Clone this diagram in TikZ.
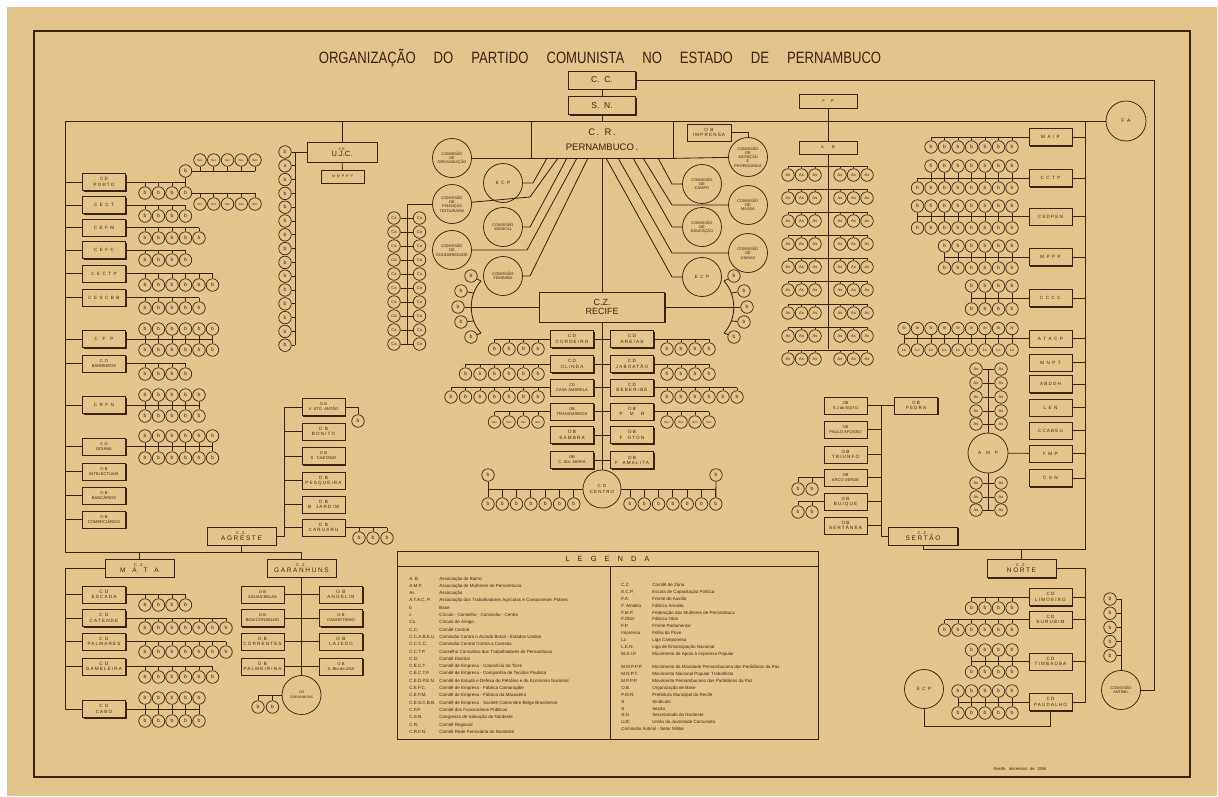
\documentclass[tikz,border=0pt]{standalone}
\usepackage{fontspec}
\setmainfont{Liberation Sans}
\newfontfamily\spaced[LetterSpace=25]{Liberation Sans}
\newfontfamily\narrow[FakeStretch=0.8]{Liberation Sans}
\usetikzlibrary{shadows,positioning}
\definecolor{paper}{HTML}{E3C48A}
\definecolor{ink}{HTML}{36260F}

\begin{document}
\begin{tikzpicture}[x=1pt, y=-1pt, % one unit = one pixel, y downwards
      color = ink, line width=0.85pt,
bc/.style  = {circle, draw, fill=paper, minimum size=12.5pt, inner sep=0pt,
              line width=0.7pt, font=\fontsize{5}{5}\selectfont},
sec/.style = {bc, font=\fontsize{3}{3}\selectfont},
ca/.style  = {bc, font=\fontsize{4}{4}\selectfont},
com/.style = {circle, draw, fill=paper, minimum size=39pt, inner sep=0pt,
              align=center, line width=0.75pt, font=\fontsize{3.9}{4.3}\selectfont},
ob/.style  = {draw, fill=paper, minimum width=43pt, minimum height=17pt,
              inner sep=0pt, align=center, line width=0.75pt,
              drop shadow={shadow xshift=1.2pt, shadow yshift=-1.2pt,
                           fill=ink, opacity=1},
              font=\spaced\fontsize{4.6}{5.2}\selectfont},
obn/.style = {ob, font=\fontsize{4.1}{5}\selectfont},
cz/.style  = {ob, minimum width=69pt, minimum height=18pt,
              font=\spaced\fontsize{6.5}{6}\selectfont},
                    ]
\useasboundingbox (0,0) rectangle (1218,796);
\fill[paper] (7,7) rectangle (1217,796);
\draw[line width=1.8pt] (34,31) rectangle (1190,777);

% title and top of the tree
\node (titulo) at (600,58) {\narrow\fontsize{16.4}{16.4}\selectfont\spaceskip=18pt
  ORGANIZAÇÃO DO PARTIDO COMUNISTA NO ESTADO DE PERNAMBUCO};
\node[ob, minimum width=67pt, minimum height=18pt, font=\fontsize{8.5}{8.5}\selectfont] (cc) at (602,80) {C.\ \ C.};
\node[ob, minimum width=67pt, minimum height=18pt, font=\fontsize{8.5}{8.5}\selectfont] (sn) at (602,105.5) {S.\ \ N.};
\node[ob, minimum width=142pt, minimum height=37pt, font=\fontsize{9.5}{9.5}\selectfont] (cr) at (602,139.5)
  {C\,.\ \ R\,.\\[6pt]PERNAMBUCO\,.};
\node[com, minimum size=40pt, font=\spaced\fontsize{5}{5}\selectfont] (fa) at (1126,121) {F A};
\coordinate (tl) at (65,121);
\coordinate (rv) at (1085,121);
\coordinate (ll) at (65,552);
\draw (ll) -- (tl) -- (fa);
\draw (cc) -- (sn);
\draw (sn) -- (cr);

% U.J.C.
\node[ob, minimum width=70pt, minimum height=20pt, font=\fontsize{7.5}{6}\selectfont] (ujc) at (342,152)
  {{\fontsize{3.5}{3.5}\selectfont C.R.}\\U.J.C.};
\node[ob, minimum height=13pt, font=\spaced\fontsize{3.6}{4}\selectfont] (mmppp) at (342.5,176.5) {M M P P P};
\draw (ujc) -- (ujc |- tl);
\draw (ujc) -- (mmppp);
\coordinate (uv) at (295,152);
\foreach \i in {0,...,14}
  {\node[bc] (ujc-\i) at (285,152+13.8*\i) {\ifnum\i=1 a\else b\fi};
   \draw (ujc-\i) -- (ujc-\i -| uv);}
\draw (ujc) -- (ujc-0);
\draw (uv) -- (uv |- ujc-14);

% left branch of the regional committee
\node[ob]  (porto)        at (104,182)   {CD\\PORTO};
\node[ob]  (cect)         at (104,205)   {C E C T};
\node[ob]  (cefm)         at (104,227.5) {C E F M};
\node[ob]  (cefc)         at (104,250)   {C E F C};
\node[ob]  (cectp)        at (104,273.5) {C E C T P};
\node[ob]  (cescbb)       at (104,297.5) {C E S C B B};
\node[ob]  (cfp)          at (104,339)   {C\ \ F\ \ P};
\node[obn] (barreiros)    at (104,363.5) {C\ \ D\\BARREIROS};
\node[ob]  (crfn)         at (104,405)   {C R F N};
\node[obn] (goiana)       at (104,446.5) {C D\\GOIANA};
\node[obn] (intelectuais) at (104,471.5) {O B\\INTELECTUAIS};
\node[obn] (bancarios)    at (104,495.5) {O B\\BANCÁRIOS};
\node[obn] (comerciarios) at (104,519.5) {O B\\COMERCIÁRIOS};
\foreach \nm in {porto,cect,cefm,cefc,cectp,cescbb,cfp,barreiros,crfn,goiana,
                 intelectuais,bancarios,comerciarios}
  \draw (\nm) -- (\nm -| tl);
\foreach \nm/\n/\yb in {porto/3/193, cect/3/216, cefm/4/238, cefc/3/260,
                         cectp/5/285, cescbb/4/308, barreiros/3/374}
  {\foreach \i in {0,...,\n}
     {\node[bc] (\nm-\i) at (145+13.5*\i,\yb) {b};
      \draw (\nm-\i) -- (\nm-\i |- \nm);}
   \draw (\nm) -- (\nm-\n |- \nm);}
\foreach \nm/\n/\ya/\yb in {cfp/5/329/350, crfn/4/395/416, goiana/5/436/458}
  {\foreach \i in {0,...,\n}
     {\node[bc] (\nm-a\i) at (145+13.5*\i,\ya) {b};
      \node[bc] (\nm-b\i) at (145+13.5*\i,\yb) {b};
      \draw (\nm-a\i) -- (\nm-b\i);}
   \draw (\nm) -- (\nm-a\n |- \nm);}
% sections of CD Porto
\node[bc] (porto-up) at (185.5,171) {b};
\draw (porto-up) -- (porto-3);
\foreach \i in {0,...,4}
  {\node[sec] (porto-s\i) at (200+13.75*\i,160) {Sec};
   \node[sec] (porto-t\i) at (200+13.75*\i,204) {Sec};
   \draw (porto-s\i) -- (porto-s\i |- porto-up);
   \draw (porto-t\i) -- (porto-t\i |- porto-3);}
\draw (porto-up) -- (porto-s4 |- porto-up);
\draw (porto-3) -- (porto-t4 |- porto-3);

% commissions round C.R.
\node[com] (org)  at (452,158) {COMISSÃO\\DE\\ORGANIZAÇÃO};
\node[com, font=\spaced\fontsize{4.6}{5}\selectfont] (ecpl) at (503,183) {E C P};
\node[com] (fin)  at (452,204) {COMISSÃO\\DE\\FINANÇAS\\TEZOURARIA};
\node[com] (sind) at (503,227) {COMISSÃO\\SINDICAL};
\node[com] (sol)  at (452,250) {COMISSÃO\\DE\\SOLIDARIEDADE};
\node[com] (fem)  at (503,276) {COMISSÃO\\FEMININA};
\node[ob, minimum width=44pt] (imprensa) at (709,132.5) {O B\\IMPRENSA};
\node[com] (agit)   at (748,157) {COMISSÃO\\DE\\AGITAÇÃO\\E\\PROPAGANDA};
\node[com] (campo)  at (702,184) {COMISSÃO\\DE\\CAMPO};
\node[com] (massa)  at (748,205) {COMISSÃO\\DE\\MASSA};
\node[com] (educ)   at (702,227) {COMISSÃO\\DE\\EDUCAÇÃO};
\node[com] (usinas) at (748,253) {COMISSÃO\\DE\\USINAS};
\node[com, font=\spaced\fontsize{4.6}{5}\selectfont] (ecpr) at (702,277) {E C P};
\draw (org) -- (org -| cr.south west);
\draw (ecpl) -- (533,183) -- (547,158);
\draw (fin)  -- (530,197) -- (558,158);
\draw (sind) -- (530,227) -- (567,158);
\draw (sol)  -- (527,250) -- (577,158);
\draw (fem)  -- (530,276) -- (588,158);
\draw (cr.south east) -- (agit);
\draw (658,158) -- (672,184) -- (campo);
\draw (643,158) -- (672,205) -- (massa);
\draw (633,158) -- (672,227) -- (educ);
\draw (618,158) -- (672,253) -- (usinas);
\draw (606,158) -- (672,277) -- (ecpr);
\coordinate (imk) at (748,132.5);
\draw (imprensa) -- (imk) -- (agit);
% circles of friends
\foreach \i in {0,...,9}
  {\node[ca] (ca-l\i) at (394,218+14*\i) {Ca};
   \node[ca] (ca-r\i) at (419.5,218+14*\i) {Ca};
   \draw (ca-l\i) -- (ca-r\i);}
\coordinate (cav) at (407,204);
\draw (fin) -- (cav) -- (cav |- ca-l9);

% C.Z. Recife
\node[ob, minimum width=125pt, minimum height=30pt, font=\fontsize{9}{9.5}\selectfont] (recife) at (602,307)
  {C.Z.\\RECIFE};
\node[com, minimum size=38pt, font=\spaced\fontsize{4.4}{6}\selectfont] (centro) at (602,489) {C D\\CENTRO};
\draw (cr) -- (recife);
\draw (recife) -- (centro);
\draw (recife) -- (471,307);
\draw (481,281) .. controls (468,295) and (468,319) .. (481,333);
\draw (recife) -- (734,307);
\draw (724,281) .. controls (737,295) and (737,319) .. (724,333);
\foreach \i/\x/\y/\ax/\ay in {1/471/276/481/281, 2/461/291/473.7/293, 3/458/307/471/307,
                              4/461/322/473.7/321, 5/471/337/481/333}
  {\node[bc] (rl-\i) at (\x,\y) {b};
   \node[bc] (rr-\i) at (1205-\x,\y) {b};
   \draw (rl-\i) -- (\ax,\ay);
   \draw (rr-\i) -- (1205-\ax,\ay);}
\node[ob]  (cordeiro) at (572,339)   {CD\\CORDEIRO};
\node[ob]  (olinda)   at (572,364)   {CD\\OLINDA};
\node[obn] (casa)     at (572,387.5) {CD\\CASA AMARELA};
\node[obn] (transv)   at (572,411.5) {OB\\TRANSVIÁRIOS};
\node[ob]  (sambra)   at (572,435)   {OB\\SAMBRA};
\node[obn] (stamaria) at (572,460)   {OB\\C. Sta. MARIA};
\node[ob]  (areias)   at (632,339)   {CD\\AREIAS};
\node[ob]  (jaboatao) at (632,364)   {CD\\JABOATÃO};
\node[ob]  (beberibe) at (632,387.5) {CD\\BEBERIBE};
\node[ob]  (pmr)      at (632,411.5) {OB\\P\ \ \ M\ \ \ R};
\node[ob]  (foton)    at (632,435)   {OB\\F\ \ OTON};
\node[ob]  (famalita) at (632,460)   {OB\\F\ \ AMALITA};
\foreach \nm in {cordeiro,olinda,casa,transv,sambra,stamaria,
                 areias,jaboatao,beberibe,pmr,foton,famalita}
  \draw (\nm) -- (\nm -| recife);
\foreach \nm/\n/\yb in {cordeiro/3/349, olinda/5/374, casa/6/397}
  {\foreach \i in {0,...,\n}
     {\node[bc] (\nm-\i) at (538-14.5*\i,\yb) {b};
      \draw (\nm-\i) -- (\nm-\i |- \nm);}
   \draw (\nm) -- (\nm-\n |- \nm);}
\foreach \nm/\n/\yb in {areias/3/349, jaboatao/3/374, beberibe/5/397}
  {\foreach \i in {0,...,\n}
     {\node[bc] (\nm-\i) at (667+14*\i,\yb) {b};
      \draw (\nm-\i) -- (\nm-\i |- \nm);}
   \draw (\nm) -- (\nm-\n |- \nm);}
\foreach \i in {0,...,3}
  {\node[sec] (transv-\i) at (538-14.5*\i,422) {Sec};
   \node[sec] (pmr-\i) at (667+14*\i,422) {Sec};
   \draw (transv-\i) -- (transv-\i |- transv);
   \draw (pmr-\i) -- (pmr-\i |- pmr);}
\draw (transv) -- (transv-3 |- transv);
\draw (pmr) -- (pmr-3 |- pmr);
% bases of CD Centro
\foreach \i in {0,...,6}
  {\node[bc] (cl-\i) at (488+14.3*\i,504) {b};
   \node[bc] (ce-\i) at (630+14.3*\i,504) {b};
   \draw (cl-\i) -- (cl-\i |- centro);
   \draw (ce-\i) -- (ce-\i |- centro);}
\node[bc] (cl-up) at (488,475) {b};
\node[bc] (ce-up) at (716,475) {b};
\draw (cl-up) -- (cl-0);
\draw (ce-up) -- (ce-6);
\draw (centro) -- (cl-0 |- centro);
\draw (centro) -- (ce-6 |- centro);

% F.P. and A.B.
\node[ob, minimum width=58pt, minimum height=14pt, font=\spaced\fontsize{4}{4}\selectfont] (fp) at (828,101) {F\ \ \ P};
\node[ob, minimum width=58pt, minimum height=13pt, font=\spaced\fontsize{4}{4}\selectfont] (ab) at (828,147.5) {A\ \ \ \ B};
\coordinate (abe) at (828,349);
\draw (fp) -- (ab);
\draw (ab) -- (abe);
\foreach \r in {0,...,8}
  {\draw (788,166+23*\r) -- (867,166+23*\r);
   \foreach \x [count=\i] in {788,801.5,815,840,853.5,867}
     {\node[ca] (as-\r-\i) at (\x,175+23*\r) {As};
      \draw (as-\r-\i) -- ++(0,-9);}}

% right column
\node[ob] (maip)   at (1050.5,137)   {M A I P};
\node[ob] (cctp)   at (1050.5,178)   {C C T P};
\node[ob] (cedpen) at (1050.5,216.5) {CEDPEN};
\node[ob] (mppp)   at (1050.5,257)   {M P P P};
\node[ob] (cccc)   at (1050.5,298)   {C C C C};
\node[ob] (atacp)  at (1050.5,338.5) {A T A C P};
\node[ob] (mnpt)   at (1050.5,362.5) {M N P T};
\node[ob] (abddh)  at (1050.5,384)   {ABDDH};
\node[ob] (len)    at (1050.5,407.5) {L E N};
\node[ob] (ccabeu) at (1050.5,430.5) {CCABEU};
\node[ob] (fmp)    at (1050.5,453.5) {F M P};
\node[ob] (csn)    at (1050.5,478)   {C S N};
\foreach \nm in {maip,cctp,cedpen,mppp,cccc,atacp,mnpt,abddh,len,ccabeu,fmp,csn}
  \draw (\nm) -- (\nm -| rv);
\foreach \nm/\n/\yb in {maip/6/147, cctp/7/188, cedpen/7/228, mppp/5/268, cccc/3/309}
  {\foreach \i in {0,...,\n}
     {\node[bc] (\nm-b\i) at (1012-13.5*\i,\yb) {b};
      \draw (\nm-b\i) -- (\nm-b\i |- \nm);}
   \draw (\nm) -- (\nm-b\n |- \nm);}
\foreach \nm/\n/\ya in {cctp/6/166, cedpen/7/206, mppp/5/246, cccc/3/286}
  \foreach \i in {0,...,\n}
    {\node[bc] (\nm-a\i) at (1012-13.5*\i,\ya) {b};
     \draw (\nm-a\i) -- (\nm-a\i |- \nm);}
\foreach \i in {0,...,8}
  {\node[ca] (sr-\i) at (1012-13.5*\i,328.5) {Sr};
   \node[ca] (lc-\i) at (1012-13.5*\i,350) {Lc};
   \draw (sr-\i) -- (lc-\i);}
\draw (atacp) -- (sr-8 |- atacp);
% A.M.P.
\node[com, minimum size=40pt, font=\spaced\fontsize{4.6}{5}\selectfont] (amp) at (988,453) {A\ \ M\ \ P};
\foreach \y in {369,383,397,411,424,483,497,510}
  {\node[ca] (amp-l\y) at (976,\y) {As};
   \node[ca] (amp-r\y) at (1001,\y) {As};
   \draw (amp-l\y) -- (amp-r\y);}
\draw (amp) -- (amp |- amp-l369);
\draw (amp) -- (amp |- amp-l510);
\draw (amp) -- (fmp);

% C.Z. Sertao
\node[obn] (sjegito)  at (845.5,405.5) {OB\\S J do EGITO};
\node[ob]  (pedra)    at (916,405.5)   {OB\\PEDRA};
\node[obn] (paulo)    at (845.5,429.5) {OB\\PAULO AFONSO};
\node[ob]  (triunfo)  at (845.5,454.5) {OB\\TRIUNFO};
\node[obn] (arco)     at (845.5,477.5) {OB\\ARCO VERDE};
\node[ob]  (buique)   at (845.5,501.5) {OB\\BUIQUE};
\node[ob]  (sertanea) at (845.5,525.5) {OB\\SERTÂNEA};
\node[cz]  (sertao)   at (923,536) {{\fontsize{4}{4}\selectfont C.Z.}\\SERTÃO};
\coordinate (sv) at (881,405.5);
\coordinate (rb) at (1085,549);
\draw (sjegito) -- (pedra);
\draw (sv) -- (sv |- sertao) -- (sertao);
\foreach \nm in {paulo,triunfo,arco,buique,sertanea}
  \draw (\nm) -- (\nm -| sv);
\foreach \nm/\y in {arco/489, buique/512}
  {\foreach \i in {0,1}
     {\node[bc] (\nm-\i) at (798+14*\i,\y) {b};
      \draw (\nm-\i) -- (\nm-\i |- \nm);}
   \draw (\nm) -- (\nm-0 |- \nm);}
\draw (rv) -- (rb) -- (rb -| sertao) -- (sertao);

% C.Z. Norte
\node[cz] (norte)    at (1021.5,568.5) {{\fontsize{4}{4}\selectfont C.Z.}\\NORTE};
\node[ob] (limoeiro) at (1050.5,597)   {CD\\LIMOEIRO};
\node[ob] (surubim)  at (1050.5,619.5) {CD\\SURUBIM};
\node[ob] (timbauba) at (1050.5,661.5) {CD\\TIMBAÚBA};
\node[ob] (paudalho) at (1050.5,702)   {CD\\PAUDALHO};
\node[com, font=\spaced\fontsize{4.6}{5}\selectfont] (ecpn) at (924,689) {E C P};
\coordinate (nv) at (1085,568.5);
\coordinate (eb) at (924,726);
\draw (norte) -- (norte |- rb);
\draw (norte) -- (nv) -- (nv |- paudalho) -- (paudalho);
\foreach \nm in {limoeiro,surubim,timbauba}
  \draw (\nm) -- (\nm -| nv);
\foreach \nm/\n/\yb in {limoeiro/3/608, surubim/5/630, timbauba/3/672, paudalho/4/713}
  {\foreach \i in {0,...,\n}
     {\node[bc] (\nm-b\i) at (1012-13.5*\i,\yb) {b};
      \draw (\nm-b\i) -- (\nm-b\i |- \nm);}
   \draw (\nm) -- (\nm-b\n |- \nm);}
\foreach \nm/\n/\ya in {timbauba/3/650, paudalho/4/691}
  \foreach \i in {0,...,\n}
    {\node[bc] (\nm-a\i) at (1012-13.5*\i,\ya) {b};
     \draw (\nm-a\i) -- (\nm-a\i |- \nm);}
\draw (ecpn) -- (eb) -- (eb -| paudalho) -- (paudalho);

% Comissao Antimil
\node[com] (antimil) at (1121,690) {COMISSÃO\\ANTIMIL};
\foreach \i in {0,...,4}
  {\node[bc] (am-\i) at (1110,599+14.2*\i) {b};
   \draw (am-\i) -- (am-\i -| antimil);}
\draw (am-0 -| antimil) -- (antimil);
\coordinate (cv) at (1154,80);
\draw (cc) -- (cv) -- (cv |- antimil) -- (antimil);

% C.Z. Agreste
\node[cz]  (agreste)   at (241.5,536) {{\fontsize{4}{4}\selectfont C.Z.}\\AGRESTE};
\node[obn] (vsto)      at (323.5,407)   {O B\\V\ \ STO\ \ ANTÃO};
\node[ob]  (bonito)    at (323.5,431.5) {O B\\BONITO};
\node[obn] (scaetano)  at (323.5,456)   {O B\\S\ \ \ CAETANO};
\node[ob]  (pesqueira) at (323.5,480.5) {O B\\PESQUEIRA};
\node[ob]  (bjardim)   at (323.5,504.5) {O B\\B\ \ JARDIM};
\node[ob]  (caruaru)   at (323.5,527.5) {O B\\CARUARU};
\coordinate (av) at (284,407);
\draw (av) -- (av |- agreste) -- (agreste);
\foreach \nm in {vsto,bonito,scaetano,pesqueira,bjardim,caruaru}
  \draw (\nm) -- (\nm -| av);
\node[bc] (vsto-b) at (358,421) {b};
\draw (vsto) -- (vsto -| vsto-b) -- (vsto-b);
\foreach \i in {0,1,2}
  {\node[bc] (car-\i) at (359+14*\i,538) {b};
   \draw (car-\i) -- (car-\i |- caruaru);}
\draw (caruaru) -- (car-2 |- caruaru);

% C.Z. Mata
\node[cz] (mata)      at (139.5,568)   {{\fontsize{4}{4}\selectfont C.Z.}\\M\ \ A\ \ T\ \ A};
\node[ob] (escada)    at (104,594.5) {C D\\ESCADA};
\node[ob] (catende)   at (104,618)   {C D\\CATENDE};
\node[ob] (palmares)  at (104,641.5) {C D\\PALMARES};
\node[ob] (gameleira) at (104,666.5) {C D\\GAMELEIRA};
\node[ob] (cabo)      at (104,709)   {C D\\CABO};
\coordinate (mv) at (65,568);
\draw (mata) -- (mv) -- (mv |- cabo) -- (cabo);
\foreach \nm in {escada,catende,palmares,gameleira}
  \draw (\nm) -- (\nm -| mv);
\foreach \nm/\n/\yb in {escada/3/605, catende/6/628, palmares/6/652, gameleira/5/677}
  {\foreach \i in {0,...,\n}
     {\node[bc] (\nm-\i) at (145+13.5*\i,\yb) {b};
      \draw (\nm-\i) -- (\nm-\i |- \nm);}
   \draw (\nm) -- (\nm-\n |- \nm);}
\foreach \i in {0,...,4}
  {\node[bc] (cabo-a\i) at (145+13.5*\i,698) {b};
   \node[bc] (cabo-b\i) at (145+13.5*\i,721) {b};
   \draw (cabo-a\i) -- (cabo-b\i);}
\draw (cabo) -- (cabo-a4 |- cabo);

% C.Z. Garanhuns
\node[cz]  (garanhuns)  at (301.5,568) {{\fontsize{4}{4}\selectfont C.Z.}\\GARANHUNS};
\node[obn] (aguas)      at (262.5,594.5) {O B\\ÁGUAS BELAS};
\node[obn] (bomcons)    at (262.5,618)   {O B\\BOM CONSELHO};
\node[ob]  (correntes)  at (262.5,641.5) {O B\\CORRENTES};
\node[ob]  (palmeirina) at (262.5,666.5) {O B\\PALMEIRINA};
\node[ob]  (angelin)    at (341,594.5)   {O B\\ANGELIN};
\node[obn] (canhotinho) at (341,618)     {O B\\CANHOTINHO};
\node[ob]  (lajedo)     at (341,641.5)   {O B\\LAJEDO};
\node[obn] (sbto)       at (341,666.5)   {O B\\S.\ Bto\ do\ UNA};
\node[com, font=\fontsize{3.6}{5}\selectfont] (cdgar) at (301.5,695) {CD\\GARANHUNS};
\draw (garanhuns) -- (cdgar);
\foreach \nm in {aguas,bomcons,correntes,palmeirina,angelin,canhotinho,lajedo,sbto}
  \draw (\nm) -- (\nm -| garanhuns);
\foreach \i in {0,1}
  {\node[bc] (gar-\i) at (258+14.5*\i,707) {b};
   \draw (gar-\i) -- (gar-\i |- cdgar);}
\draw (cdgar) -- (gar-0 |- cdgar);
\draw (ll) -- (ll -| garanhuns);
\draw (agreste) -- (agreste |- ll);
\draw (mata) -- (mata |- ll);
\draw (garanhuns) -- (garanhuns |- ll);

% legend
\draw (397,551) rectangle (818,739);
\draw (397,566) -- (818,566);
\draw (610,566) -- (610,739);
\node (legenda) at (607.5,558.5) {\fontsize{7.5}{7.5}\selectfont\spaceskip=8pt L E G E N D A};
\node[anchor=north west, inner sep=0pt, font=\fontsize{4.5}{7.3}\selectfont] (legl) at (409,574.5) {%
\begin{tabular}{@{}p{30pt}@{}l@{}}
A. B. & Associação de Bairro\\
A.M.P. & Associação de Mulheres de Pernambuco\\
As & Associação\\
A.T.A.C. P. & Associação dos Trabalhadores Agrícolas e Camponeses Pobres\\
b & Base\\
c & Círculo - Conselho - Comissão - Centro\\
Ca & Círculo de Amigo\\
C.C. & Comitê Central\\
C.C.A.B.E.U. & Comissão Contra o Acordo Brasil - Estados Unidos\\
C.C.C.C. & Comissão Central Contra a Carestia\\
C.C.T.P. & Conselho Consultivo dos Trabalhadores de Pernambuco\\
C.D. & Comitê Distrital\\
C.E.C.T. & Comitê de Empresa - Cotonifício da Torre\\
C.E.C.T.P. & Comitê de Empresa - Companhia de Tecidos Paulista\\
C.E.D.P.E.N. & Comitê de Estudo e Defesa do Petróleo e da Economia Nacional\\
C.E.F.C. & Comitê de Empresa - Fábrica Camaragibe\\
C.E.F.M. & Comitê de Empresa - Fábrica da Macaxeira\\
C.E.S.C.B.B. & Comitê de Empresa - Societé Cotonnière Belge Brasilienne\\
C.F.P. & Comitê dos Funcionários Públicos\\
C.S.N. & Congresso de Salvação do Nordeste\\
C.R. & Comitê Regional\\
C.R.F.N. & Comitê Rede Ferroviária do Nordeste
\end{tabular}};
\node[anchor=north west, inner sep=0pt, font=\fontsize{4.5}{6.85}\selectfont] (legr) at (621,581.5) {%
\begin{tabular}{@{}p{31pt}@{}l@{}}
C.Z. & Comitê de Zona\\
E.C.P. & Escola de Capacitação Política\\
F.A. & Frente do Auxílio\\
F. Amalita & Fábrica Amalita\\
F.M.P. & Federação das Mulheres de Pernambuco\\
F.Oton & Fábrica Oton\\
F.P. & Frente Parlamentar\\
Imprensa & Folha do Povo\\
Lc & Liga Camponesa\\
L.E.N. & Liga de Emancipação Nacional\\
M.A.I.P. & Movimento de Apoio à Imprensa Popular\\
 & \\
M.M.P.P.P. & Movimento da Mocidade Pernambucana dos Partidários da Paz\\
M.N.P.T. & Movimento Nacional Popular Trabalhista\\
M.P.P.P. & Movimento Pernambucano dos Partidários da Paz\\
O.B. & Organização de Base\\
P.M.R. & Prefeitura Municipal do Recife\\
S & Sindicato\\
S & Seção\\
S.N. & Secretariado do Nordeste\\
UJC & União da Juventude Comunista\\
\multicolumn{2}{@{}l@{}}{Comissão Antimil - Setor Militar}
\end{tabular}};
\node (data) at (1020,769) {\fontsize{4.2}{4.2}\selectfont Recife,\ \ dezembro\ \ de\ \ 1956};
\end{tikzpicture}
\end{document}
